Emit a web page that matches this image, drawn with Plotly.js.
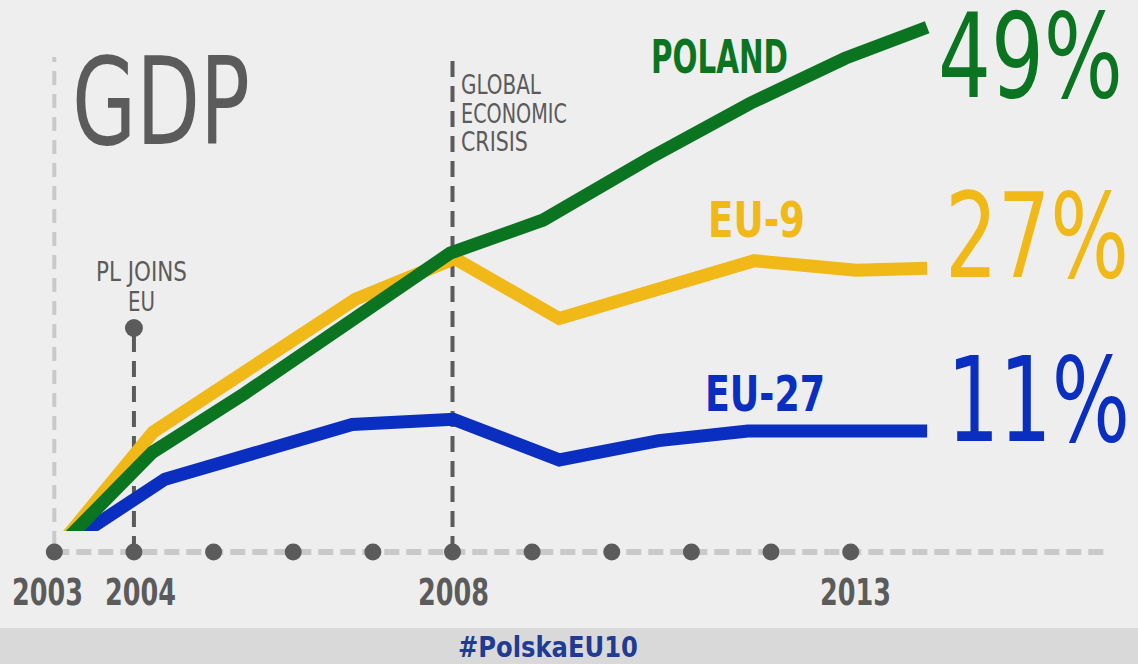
<!DOCTYPE html>
<html><head><meta charset="utf-8">
<script src="https://cdn.plot.ly/plotly-3.0.1.min.js"></script>
<style>html,body{margin:0;padding:0;background:#eeeeee;overflow:hidden}#chart{width:1138px;height:664px}</style>
</head><body><div id="chart"></div>
<script>
// ---- data ----
const years = [2003, 2004, 2005, 2006, 2007, 2008, 2009, 2010, 2011, 2012, 2013];
const yearLabels = ['2003', '2004', '2008', '2013'];
const yearLabelX = [2003, 2004, 2008, 2013];
const polandX = [2003, 2004.23, 2005.39, 2006.68, 2007.97, 2009.14, 2010.48, 2011.74, 2012.93, 2013.96];
const polandY = [0, 9.3, 14.8, 21.2, 27.9, 31.0, 36.8, 41.9, 46.1, 49.0];
const eu9X = [2003, 2004.24, 2006.78, 2008.03, 2009.34, 2010.59, 2011.79, 2013.07, 2013.96];
const eu9Y = [0, 11.2, 23.6, 27.4, 21.8, 24.5, 27.2, 26.3, 26.5];
const eu27X = [2003, 2004.39, 2006.74, 2008.01, 2009.34, 2010.59, 2011.71, 2013.04, 2013.96];
const eu27Y = [0, 6.8, 11.9, 12.4, 8.6, 10.4, 11.3, 11.3, 11.3];
const seriesNames = ['POLAND', 'EU-9', 'EU-27'];
const finalValues = ['49%', '27%', '11%'];
const eventYears = [2004, 2008];
const eventLabels = [['PL JOINS', 'EU'], ['GLOBAL', 'ECONOMIC', 'CRISIS']];
const hashtag = '#PolskaEU10';

// ---- style ----
const W = 1138, H = 664;
const GREEN = '#0b7421', YELLOW = '#f0b917', BLUE = '#0a2ebf', GREY = '#5b5b5b', LIGHT = '#c9c9c9';
const FONT = '"DejaVu Sans Condensed", "DejaVu Sans", sans-serif';
const px = v => v / W;           // horizontal pixel -> paper
const py = v => 1 - v / H;       // vertical pixel -> paper
const x0 = 2003 - 54.3 / 79.64, x1 = 2003 + (W - 54.3) / 79.64;
const yTop = 552 / 10.71;
const yBotLines = (552 - 531) / 10.71;
const yBotFull = -(H - 552) / 10.71;

const lineTrace = (x, y, c) => ({x, y, type: 'scatter', mode: 'lines', xaxis: 'x', yaxis: 'y',
  line: {color: c, width: 13, shape: 'linear'}, hoverinfo: 'skip', showlegend: false});

const traces = [
  lineTrace(eu27X, eu27Y, BLUE),
  lineTrace(eu9X, eu9Y, YELLOW),
  lineTrace(polandX, polandY, GREEN),
  {x: years, y: years.map(() => 0), type: 'scatter', mode: 'markers', xaxis: 'x2', yaxis: 'y2',
   marker: {color: GREY, size: 17}, hoverinfo: 'skip', showlegend: false, cliponaxis: false},
  {x: [eventYears[0]], y: [(552 - 328) / 10.71], type: 'scatter', mode: 'markers', xaxis: 'x2', yaxis: 'y2',
   marker: {color: GREY, size: 18}, hoverinfo: 'skip', showlegend: false, cliponaxis: false}
];

const shapes = [
  {type: 'rect', xref: 'paper', yref: 'paper', x0: 0, x1: 1, y0: 0, y1: py(628), fillcolor: '#d9d9d9', line: {width: 0}, layer: 'below'},
  {type: 'line', xref: 'x2', yref: 'y2', x0: 2003, x1: x0 + 1108 / 79.64, y0: 0, y1: 0, line: {color: LIGHT, width: 6, dash: '15px,7px'}, layer: 'below'},
  {type: 'line', xref: 'x2', yref: 'paper', x0: 2003, x1: 2003, y0: py(545), y1: py(57), line: {color: LIGHT, width: 4, dash: '14px,9px'}, layer: 'below'},
  {type: 'line', xref: 'x2', yref: 'paper', x0: eventYears[0], x1: eventYears[0], y0: py(552), y1: py(330), line: {color: GREY, width: 4, dash: '16px,9px'}, layer: 'below'},
  {type: 'line', xref: 'x2', yref: 'paper', x0: eventYears[1], x1: eventYears[1], y0: py(552), y1: py(59), line: {color: GREY, width: 4, dash: '16px,9px'}, layer: 'below'}
];

// annotation helper: size = visual font size, w = visual width in px (condensed-typeface look)
const fitWidths = [], fitSizes = [];
const ann = (text, x, y, size, color, w, weight = 'bold') => {
  fitWidths.push(w); fitSizes.push(size);
  return {text, x, y, xref: 'paper', yref: 'paper', xanchor: 'center', yanchor: 'middle', align: 'center', showarrow: false,
    font: {family: FONT, size, color, weight}};
};

const yearLabelCentres = [47, 140, 453, 855];
const annotations = [
  ann('GDP', px(161), py(102), 121, GREY, 178, 'normal'),
  ann(eventLabels[0][0], px(141), py(272), 27, GREY, 91, 'normal'),
  ann(eventLabels[0][1], px(141.5), py(301), 27, GREY, 27, 'normal'),
  ann(eventLabels[1][0], px(501), py(85), 26, GREY, 80, 'normal'),
  ann(eventLabels[1][1], px(514), py(113.5), 26, GREY, 106, 'normal'),
  ann(eventLabels[1][2], px(494.5), py(142), 26, GREY, 67, 'normal'),
  ann(seriesNames[0], px(719), py(57), 47, GREEN, 137),
  ann(seriesNames[1], px(756.5), py(220), 50, YELLOW, 97),
  ann(seriesNames[2], px(765), py(394), 50, BLUE, 120),
  ann(finalValues[0], px(1030.5), py(57.5), 117, GREEN, 185, 'normal'),
  ann(finalValues[1], px(1037), py(236.5), 117, YELLOW, 184, 'normal'),
  ann(finalValues[2], px(1038.5), py(400.5), 117, BLUE, 183, 'normal'),
  ...yearLabels.map((t, i) => ann(t, px(yearLabelCentres[i]), py(592), 37, GREY, 71, 'bold')),
  ann(hashtag, px(548), py(646.5), 29, '#1f3b94', 180)
];

const layout = {
  width: W, height: H, margin: {l: 0, r: 0, t: 0, b: 0, pad: 0},
  paper_bgcolor: '#eeeeee', plot_bgcolor: 'rgba(0,0,0,0)',
  xaxis: {range: [x0, x1], domain: [0, 1], anchor: 'y', visible: false, fixedrange: true},
  yaxis: {range: [yBotLines, yTop], domain: [py(531), 1], anchor: 'x', visible: false, fixedrange: true},
  xaxis2: {range: [x0, x1], domain: [0, 1], anchor: 'y2', visible: false, fixedrange: true},
  yaxis2: {range: [yBotFull, yTop], domain: [0, 1], anchor: 'x2', visible: false, fixedrange: true},
  shapes, annotations, showlegend: false
};

const annTexts = gd => {
  const out = [];
  gd.querySelectorAll('g.annotation').forEach(g => {
    const t = g.querySelector('text.annotation-text');
    if (t) out[+g.getAttribute('data-index')] = t;
  });
  return out;
};

Plotly.newPlot('chart', traces, layout, {displayModeBar: false, staticPlot: true}).then(gd => {
  // pass 1: shrink each font so its natural width equals the wanted width
  const texts = annTexts(gd);
  const upd = {}, smallSizes = [];
  texts.forEach((t, i) => {
    const nat = t.getBBox().width;
    const s = nat > 0 ? fitSizes[i] * fitWidths[i] / nat : fitSizes[i];
    smallSizes[i] = s;
    upd[`annotations[${i}].font.size`] = s;
  });
  return Plotly.relayout(gd, upd).then(() => {
    // pass 2: stretch vertically back to the wanted letter height, about the text's centre
    annTexts(gd).forEach((t, i) => {
      const k = fitSizes[i] / smallSizes[i];
      const bb = t.getBBox();
      const cy = bb.y + bb.height / 2;
      t.setAttribute('transform', `translate(0,${cy}) scale(1,${k}) translate(0,${-cy})`);
    });
  });
});
</script></body></html>
